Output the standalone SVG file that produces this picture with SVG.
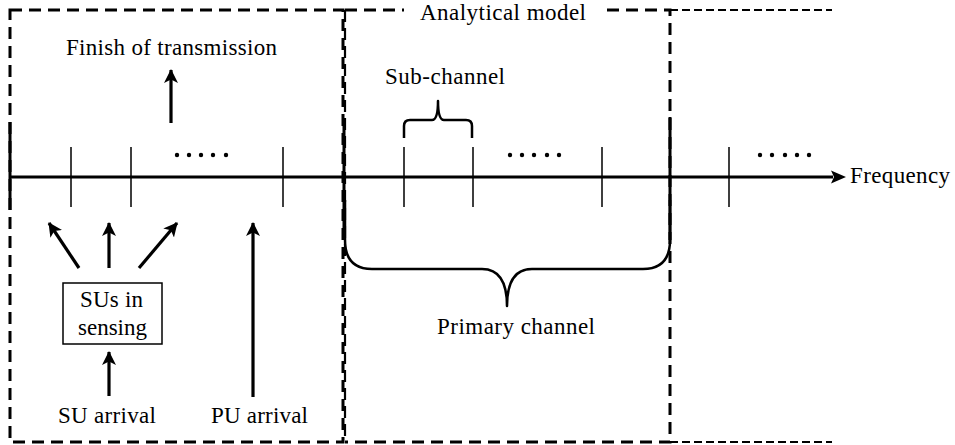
<svg xmlns="http://www.w3.org/2000/svg" width="955" height="445" viewBox="0 0 955 445">
  <style>
    .dash-thick { fill: none; stroke: #000; stroke-width: 3; stroke-dasharray: 12 7; }
    .dash-mid { fill: none; stroke: #000; stroke-width: 2.2; stroke-dasharray: 12 6; }
    .dash-thin { fill: none; stroke: #000; stroke-width: 2; stroke-dasharray: 8 4; }
    .solid { fill: none; stroke: #000; stroke-width: 3; }
    .tick { fill: none; stroke: #000; stroke-width: 1.5; }
    .brace { fill: none; stroke: #000; stroke-width: 2.5; stroke-linejoin: round; }
    .arrow { fill: none; stroke: #000; stroke-width: 3.2; marker-end: url(#head); }
    .dot { fill: #000; }
  </style>
  <defs>
    <marker id="head" markerUnits="userSpaceOnUse" markerWidth="16" markerHeight="16" refX="13" refY="7" orient="auto" viewBox="0 0 16 14">
      <path d="M0,0 L14,7 L0,14 L3.5,7 Z" fill="#000"/>
    </marker>
  </defs>

  <g font-family="Liberation Serif, Times New Roman, serif" font-size="23" fill="#000">
  <!-- region frames -->
  <g id="region-left">
    <rect class="dash-thick" x="10" y="10" width="333" height="432"/>
  </g>
  <g id="region-model">
    <path class="dash-thick" d="M345,10 H404 M607,10 H670 V442 H345"/>
    <path class="dash-mid" d="M345,10 V442"/>
    <text x="420" y="20" textLength="166" lengthAdjust="spacing">Analytical model</text>
  </g>
  <g id="region-right">
    <path class="dash-thin" d="M670,10 H832 M670,442 H832"/>
  </g>

  <!-- channel boundaries on the axis -->
  <g id="boundaries">
    <path class="solid" d="M10,122 V210 M344,122 V240 M670,117 V240"/>
  </g>

  <!-- frequency axis -->
  <g id="axis">
    <path class="solid" d="M10,177 H833"/>
    <path d="M831,170.5 L846,177 L831,183.5 L834,177 Z" fill="#000"/>
    <text x="850" y="183" textLength="100" lengthAdjust="spacing">Frequency</text>
  </g>

  <!-- sub-channel ticks -->
  <g id="ticks">
    <path class="tick" d="M71,147 V207 M131,147 V207 M283,147 V207 M404,147 V207 M473,147 V207 M602,147 V207 M729,147 V207"/>
  </g>

  <!-- ellipses between ticks -->
  <g id="ellipsis-left">
    <circle class="dot" cx="177" cy="155" r="2.2"/>
    <circle class="dot" cx="189" cy="155" r="2.2"/>
    <circle class="dot" cx="201" cy="155" r="2.2"/>
    <circle class="dot" cx="213" cy="155" r="2.2"/>
    <circle class="dot" cx="226" cy="155" r="2.2"/>
  </g>
  <g id="ellipsis-mid">
    <circle class="dot" cx="510" cy="155" r="2.2"/>
    <circle class="dot" cx="522" cy="155" r="2.2"/>
    <circle class="dot" cx="534" cy="155" r="2.2"/>
    <circle class="dot" cx="547" cy="155" r="2.2"/>
    <circle class="dot" cx="559" cy="155" r="2.2"/>
  </g>
  <g id="ellipsis-right">
    <circle class="dot" cx="760" cy="155" r="2.2"/>
    <circle class="dot" cx="772" cy="155" r="2.2"/>
    <circle class="dot" cx="785" cy="155" r="2.2"/>
    <circle class="dot" cx="797" cy="155" r="2.2"/>
    <circle class="dot" cx="809" cy="155" r="2.2"/>
  </g>

  <!-- sub-channel brace -->
  <g id="sub-channel">
    <path class="brace" d="M404,138 V126 Q404,120 410,120 H432 Q438,120 438,101 Q438,120 444,120 H466 Q472,120 472,126 V138"/>
    <text x="385" y="84" textLength="120" lengthAdjust="spacing">Sub-channel</text>
  </g>

  <!-- primary channel brace -->
  <g id="primary-channel">
    <path class="brace" d="M345,200 V240 Q345,269 372,269 H482 Q507,269 507,306 Q507,269 532,269 H643 Q670,269 670,240 V200"/>
    <text x="437" y="334" textLength="158" lengthAdjust="spacing">Primary channel</text>
  </g>

  <!-- finish of transmission -->
  <g id="finish">
    <text x="66" y="55" textLength="211" lengthAdjust="spacing">Finish of transmission</text>
  </g>

  <!-- sensing box -->
  <g id="sensing">
    <rect x="63" y="283" width="99" height="61" fill="#fff" stroke="#000" stroke-width="1.5"/>
    <text x="80" y="307" textLength="63" lengthAdjust="spacing">SUs in</text>
    <text x="78" y="335" textLength="69" lengthAdjust="spacing">sensing</text>
  </g>

  <g id="su-arrival">
    <text x="58" y="423" textLength="98" lengthAdjust="spacing">SU arrival</text>
  </g>
  <g id="pu-arrival">
    <text x="211" y="423" textLength="97" lengthAdjust="spacing">PU arrival</text>
  </g>

  <!-- event arrows -->
  <g id="connectors">
    <path class="arrow" d="M171,123 V70"/>
    <path class="arrow" d="M79,268 L49,223"/>
    <path class="arrow" d="M109,268 V223"/>
    <path class="arrow" d="M139,268 L177,223"/>
    <path class="arrow" d="M109,396 V352"/>
    <path class="arrow" d="M253,397 V223"/>
  </g>
  </g>
</svg>
